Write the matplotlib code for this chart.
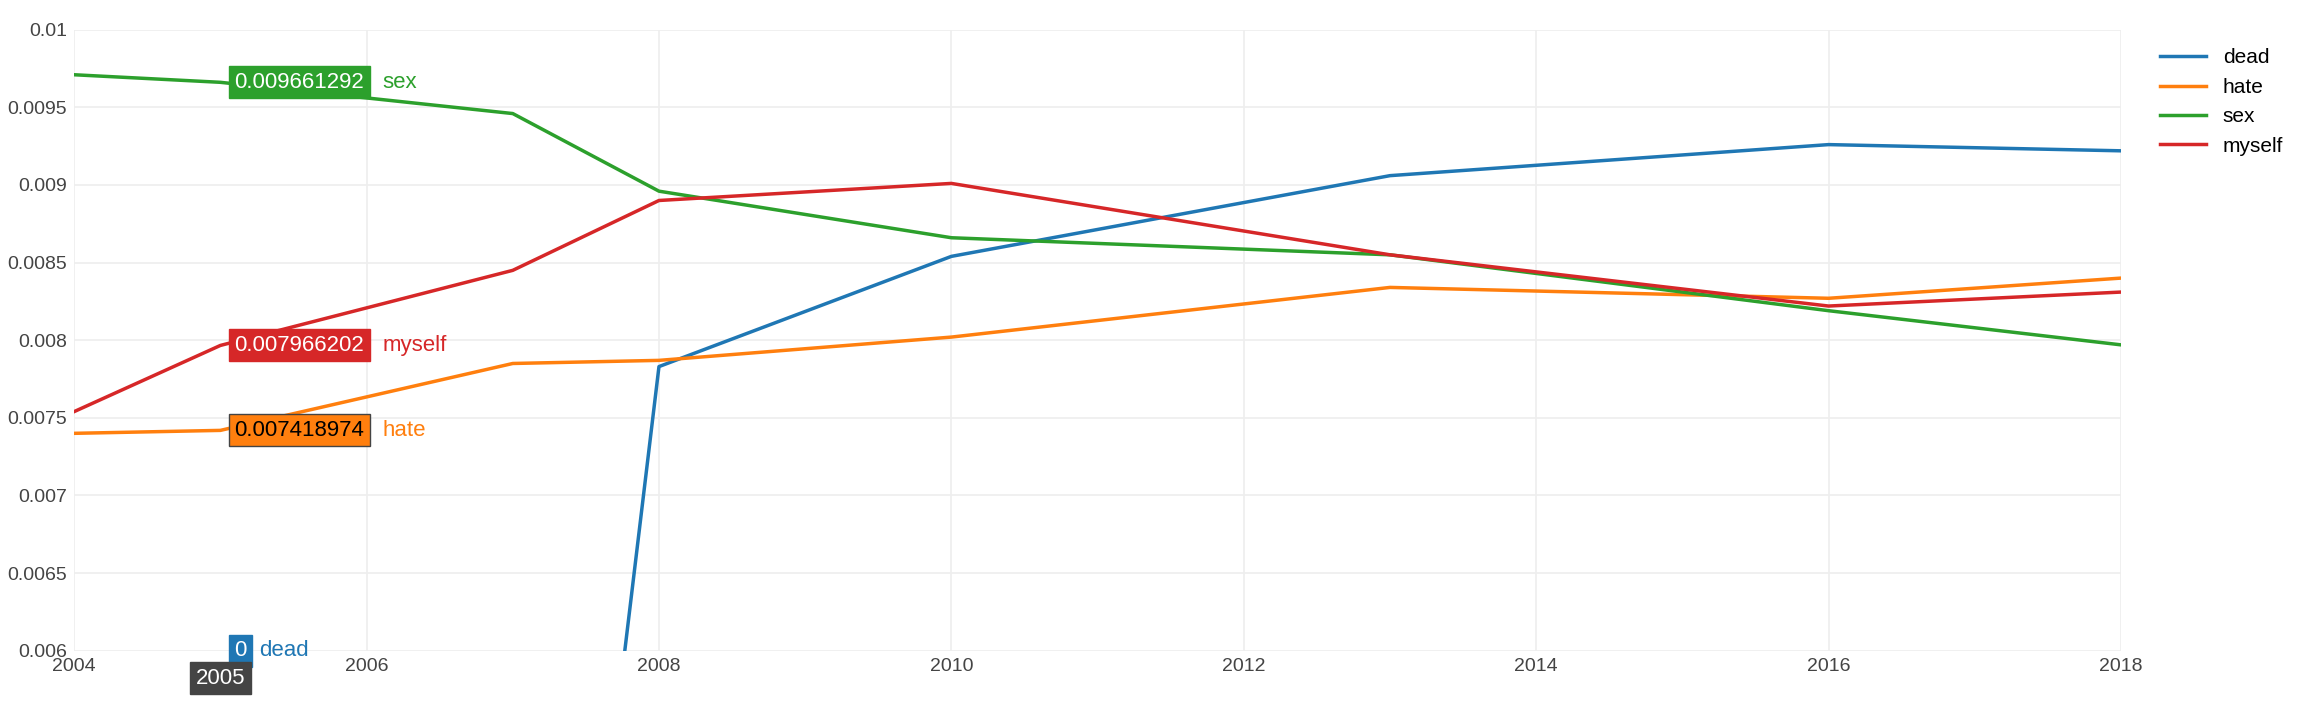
import matplotlib
matplotlib.use("Agg")
import matplotlib.pyplot as plt

plt.rcParams['font.family'] = ['Liberation Sans', 'DejaVu Sans']

years_sex = [2004, 2005, 2007, 2008, 2010, 2013, 2016, 2018]
sex = [0.00971, 0.009661292, 0.00946, 0.00896, 0.00866, 0.00855, 0.00819, 0.00797]
years_myself = [2004, 2005, 2007, 2008, 2010, 2013, 2016, 2018]
myself = [0.00754, 0.007966202, 0.00845, 0.00890, 0.00901, 0.00855, 0.00822, 0.00831]
years_hate = [2004, 2005, 2007, 2008, 2010, 2013, 2016, 2018]
hate = [0.00740, 0.007418974, 0.00785, 0.00787, 0.00802, 0.00834, 0.00827, 0.00840]
years_dead = [2004, 2005, 2006, 2007, 2008, 2010, 2013, 2016, 2018]
dead = [0, 0, 0, 0, 0.00783, 0.00854, 0.00906, 0.00926, 0.00922]

C_DEAD, C_HATE, C_SEX, C_MYSELF = "#1f77b4", "#ff7f0e", "#2ca02c", "#d62728"

fig = plt.figure(figsize=(23.18, 7.08), dpi=100)
ax = fig.add_axes([0.032, 0.081, 0.883, 0.877])

ax.plot(years_dead, dead, color=C_DEAD, lw=2.5, label="dead")
ax.plot(years_hate, hate, color=C_HATE, lw=2.5, label="hate")
ax.plot(years_sex, sex, color=C_SEX, lw=2.5, label="sex")
ax.plot(years_myself, myself, color=C_MYSELF, lw=2.5, label="myself")

ax.set_xlim(2004, 2018)
ax.set_ylim(0.006, 0.01)
ax.set_xticks(range(2004, 2019, 2))
ax.set_yticks([0.006, 0.0065, 0.007, 0.0075, 0.008, 0.0085, 0.009, 0.0095, 0.01])
ax.set_yticklabels(["0.006", "0.0065", "0.007", "0.0075", "0.008", "0.0085", "0.009", "0.0095", "0.01"])
ax.grid(color="#eeeeee", lw=1.2)
ax.set_axisbelow(True)
for s in ax.spines.values():
    s.set_visible(False)
ax.tick_params(length=0, labelsize=14, colors="#444444", pad=5)

leg = ax.legend(loc="upper left", bbox_to_anchor=(1.01, 1.0), frameon=False,
                fontsize=15, handlelength=2.2, labelspacing=0.5)

# hover labels at 2005
hover = [(0.009661292, "0.009661292", "sex", C_SEX, "white"),
         (0.007966202, "0.007966202", "myself", C_MYSELF, "white"),
         (0.007418974, "0.007418974", "hate", C_HATE, "black"),
         (0.006, "0", "dead", C_DEAD, "white")]
for y, val, name, col, tc in hover:
    ax.annotate(val, (2005, y), xytext=(10, 0), textcoords="offset points",
                va="center", ha="left", fontsize=16, color=tc,
                bbox=dict(boxstyle="square,pad=0.25", fc=col, ec="#444444" if tc == "black" else col),
                annotation_clip=False, zorder=5)
    ax.annotate(name, (2005, y), xytext=(10 + (len(val) * 8.9 + 9), 0), textcoords="offset points",
                va="center", ha="left", fontsize=16, color=col, annotation_clip=False, zorder=5)
ax.annotate("2005", (2005, 0.006), xytext=(0, -20), textcoords="offset points",
            ha="center", va="center", fontsize=16, color="white",
            bbox=dict(boxstyle="square,pad=0.25", fc="#444444", ec="#444444"),
            annotation_clip=False, zorder=6)

fig.savefig("out.png", dpi=100)
